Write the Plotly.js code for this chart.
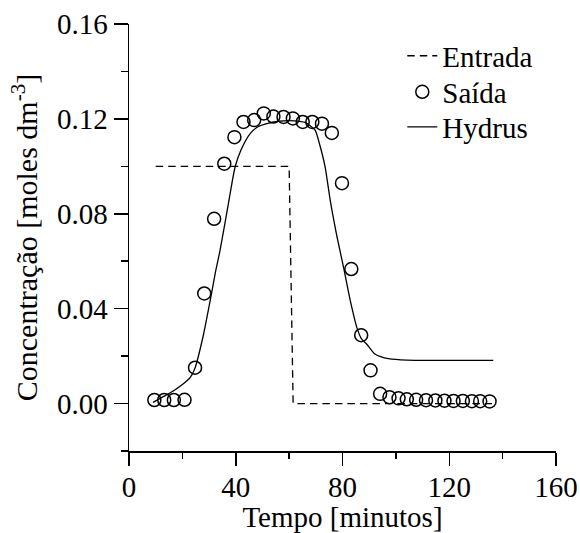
<!DOCTYPE html>
<html>
<head>
<meta charset="utf-8">
<script src="https://cdn.plot.ly/plotly-3.0.1.min.js"></script>
<style>
  html, body { margin: 0; padding: 0; background: #fff; }
  #chart { width: 580px; height: 533px; }
</style>
</head>
<body>
<div id="chart"></div>
<script>
// Entrada (inlet step)
const entradaX = [10, 60, 61.5, 136];
const entradaY = [0.1, 0.1, 0, 0];

// Saída (measured outlet)
const saidaX = [9.5, 13.2, 16.8, 20.8, 24.75, 28.2, 31.9, 35.7, 39.5, 42.9, 46.9, 50.5,
  54.1, 57.9, 61.4, 65.1, 68.7, 72.3, 76.0, 79.8, 83.3, 87.0, 90.5, 94.1, 97.6, 101.0,
  104.1, 107.6, 111.3, 114.8, 118.2, 121.6, 125.1, 128.5, 131.6, 135.1];
const saidaY = [0.0015, 0.0015, 0.0015, 0.0016, 0.0151, 0.0464, 0.0779, 0.1011, 0.1123, 0.1187,
  0.1195, 0.1223, 0.1210, 0.1208, 0.1202, 0.1187, 0.1187, 0.1180, 0.1141, 0.0929, 0.0567,
  0.0288, 0.0140, 0.0041, 0.0027, 0.0022, 0.0018, 0.0016, 0.0014, 0.0013, 0.0012, 0.0011,
  0.0011, 0.0010, 0.0010, 0.0009];

// Hydrus (model)
const hydrusX = [9, 13, 16.6, 20, 22.9, 24.75, 27.9, 30.4, 32.5, 34.1, 37.2, 39.75, 42, 45.4,
  48, 51.6, 56, 62, 66, 68, 69.8, 71.5, 73.5, 75.5, 78, 80.4, 83, 85.4, 87, 89.1, 92, 95.4,
  100, 104.1, 115, 136.5];
const hydrusY = [0.0005, 0.003, 0.0053, 0.008, 0.0109, 0.015, 0.029, 0.0433, 0.056, 0.0645,
  0.084, 0.0997, 0.107, 0.1138, 0.1165, 0.118, 0.119, 0.1192, 0.1185, 0.117, 0.1152, 0.109,
  0.0997, 0.085, 0.07, 0.0574, 0.043, 0.032, 0.0275, 0.025, 0.021, 0.0194, 0.0186, 0.0183,
  0.0182, 0.0182];

// Axis ticks
const xTicks = [0, 40, 80, 120, 160];
const xTickText = ['0', '40', '80', '120', '160'];
const yTicks = [0, 0.04, 0.08, 0.12, 0.16];
const yTickText = ['0.00', '0.04', '0.08', '0.12', '0.16'];

const FONT = 'Liberation Serif';
const fnt = (s) => ({ family: FONT, size: s, color: '#000' });

const traces = [
  {
    x: entradaX, y: entradaY, name: 'Entrada', type: 'scatter', mode: 'lines', legend: 'legend',
    line: { color: '#000', width: 1.3, dash: '7.5px,5px' }
  },
  {
    x: saidaX, y: saidaY, name: 'Saída', type: 'scatter', mode: 'markers', legend: 'legend2',
    marker: { symbol: 'circle-open', size: 13, color: '#000', line: { color: '#000', width: 1.5 } }
  },
  {
    x: hydrusX, y: hydrusY, name: 'Hydrus', type: 'scatter', mode: 'lines', legend: 'legend3',
    line: { color: '#000', width: 1.3, shape: 'spline', smoothing: 0.6 }
  }
];

const legBase = { x: 0.64, xanchor: 'left', yanchor: 'top', bgcolor: 'rgba(0,0,0,0)', borderwidth: 0, font: fnt(29) };

const layout = {
  width: 580, height: 533,
  margin: { l: 129, r: 24, t: 24, b: 82, pad: 0 },
  paper_bgcolor: '#fff', plot_bgcolor: '#fff',
  font: fnt(29),
  showlegend: true,
  legend: Object.assign({}, legBase, { y: 0.985 }),
  legend2: Object.assign({}, legBase, { y: 0.9006 }),
  legend3: Object.assign({}, legBase, { y: 0.8186 }),
  xaxis: {
    range: [0, 160], showgrid: false, zeroline: false,
    showline: true, linecolor: '#000', linewidth: 1.5, mirror: false,
    ticks: 'outside', ticklen: 13, tickwidth: 1.5, tickcolor: '#000',
    tickmode: 'array', tickvals: xTicks, ticktext: xTickText,
    tickfont: fnt(29), ticklabelstandoff: -3,
    minor: { dtick: 20, tick0: 0, ticks: 'outside', ticklen: 6, tickwidth: 1.5, tickcolor: '#000', showgrid: false },
    title: { text: 'Tempo [minutos]', font: fnt(29), standoff: 5 }
  },
  yaxis: {
    range: [-0.02, 0.16], showgrid: false, zeroline: false,
    showline: true, linecolor: '#000', linewidth: 1.5, mirror: false,
    ticks: 'outside', ticklen: 14, tickwidth: 1.5, tickcolor: '#000',
    tickmode: 'array', tickvals: yTicks, ticktext: yTickText,
    tickfont: fnt(29),
    minor: { dtick: 0.02, tick0: 0, ticks: 'outside', ticklen: 7, tickwidth: 1.5, tickcolor: '#000', showgrid: false },
    title: { text: 'Concentração [moles dm<sup>-3</sup>]', font: fnt(30), standoff: 10 }
  }
};

Plotly.newPlot('chart', traces, layout, { displayModeBar: false, staticPlot: true });
</script>
</body>
</html>
